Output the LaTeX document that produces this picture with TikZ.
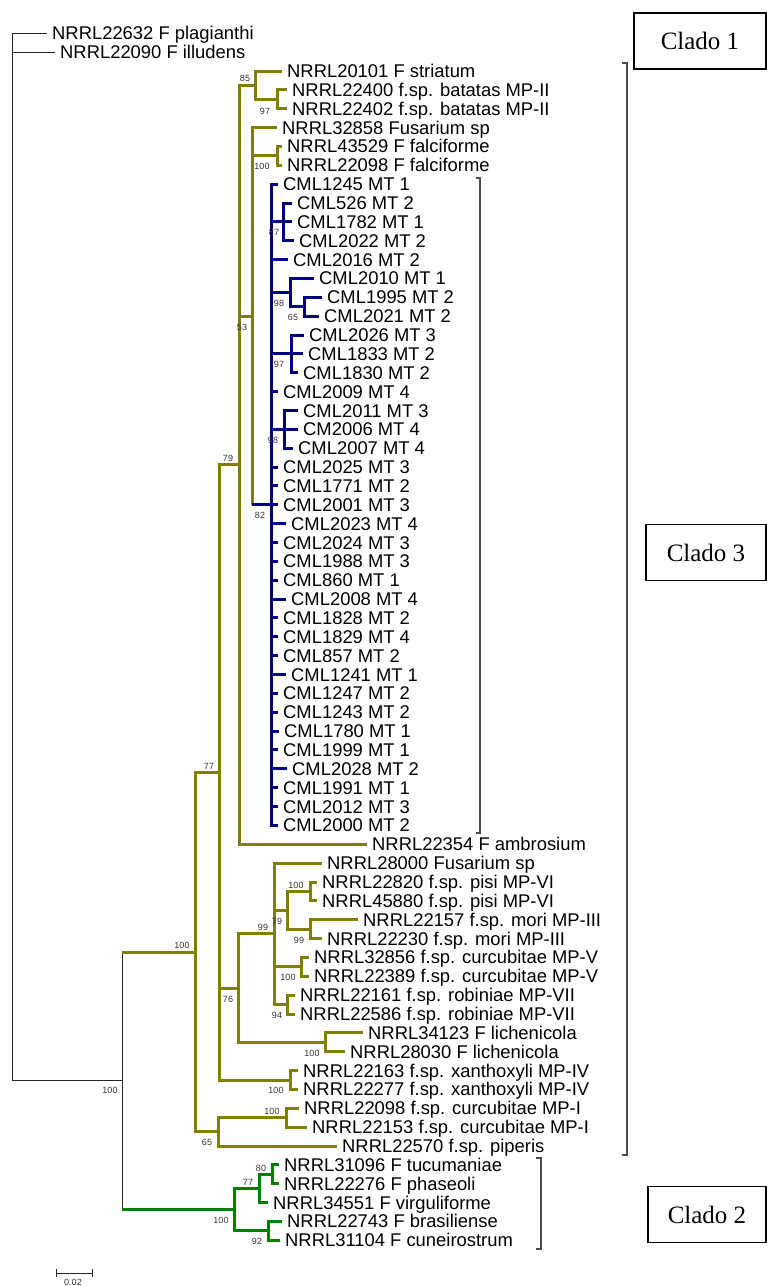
\documentclass[tikz,border=0pt]{standalone}
\usepackage{fontspec}
\setmainfont{Liberation Sans}
\newfontfamily\timesfont{Liberation Serif}
\definecolor{olv}{RGB}{128,128,0}
\definecolor{nvy}{RGB}{0,0,128}
\definecolor{grn}{RGB}{0,128,0}
\tikzset{
  leaf/.style={anchor=west, inner xsep=5pt, inner ysep=0pt, text height=13pt, text depth=0pt, font=\fontsize{18.4}{20}\selectfont},
  bs/.style={font=\fontsize{9}{10}\selectfont, text=black!80, inner sep=0pt},
  ob/.style={draw=olv, line width=3pt},
  bb/.style={draw=nvy, line width=3pt},
  gb/.style={draw=grn, line width=3pt},
  kb/.style={draw=black!85, line width=1pt},
  brk/.style={draw=black!70, line width=1.1pt},
  cbox/.style={draw, line width=1.3pt, minimum height=56pt, inner sep=0pt, font=\timesfont\fontsize{25}{28}\selectfont}
}
\begin{document}
\begin{tikzpicture}[x=1pt,y=-1pt]
\useasboundingbox (0,0) rectangle (767,1286);
% leaves
\foreach \i/\x/\t in {
1/47/NRRL22632 F plagianthi, 2/55/NRRL22090 F illudens,
3/282/NRRL20101 F striatum, 4/287/NRRL22400 f.sp. batatas MP-II, 5/287/NRRL22402 f.sp. batatas MP-II,
6/277/NRRL32858 Fusarium sp, 7/282/NRRL43529 F falciforme, 8/282/NRRL22098 F falciforme,
9/278/CML1245 MT 1, 10/292/CML526 MT 2, 11/292/CML1782 MT 1, 12/294/CML2022 MT 2,
13/288/CML2016 MT 2, 14/314/CML2010 MT 1, 15/322/CML1995 MT 2, 16/319/CML2021 MT 2,
17/304/CML2026 MT 3, 18/303/CML1833 MT 2, 19/298/CML1830 MT 2, 20/278/CML2009 MT 4,
21/298/CML2011 MT 3, 22/298/CM2006 MT 4, 23/293/CML2007 MT 4, 24/278/CML2025 MT 3,
25/278/CML1771 MT 2, 26/278/CML2001 MT 3, 27/286/CML2023 MT 4, 28/278/CML2024 MT 3,
29/278/CML1988 MT 3, 30/278/CML860 MT 1, 31/286/CML2008 MT 4, 32/278/CML1828 MT 2,
33/278/CML1829 MT 4, 34/278/CML857 MT 2, 35/286/CML1241 MT 1, 36/278/CML1247 MT 2,
37/278/CML1243 MT 2, 38/279/CML1780 MT 1, 39/278/CML1999 MT 1, 40/287/CML2028 MT 2,
41/278/CML1991 MT 1, 42/278/CML2012 MT 3, 43/278/CML2000 MT 2,
44/367/NRRL22354 F ambrosium, 45/322/NRRL28000 Fusarium sp,
46/317/NRRL22820 f.sp. pisi MP-VI, 47/317/NRRL45880 f.sp. pisi MP-VI,
48/358/NRRL22157 f.sp. mori MP-III, 49/322/NRRL22230 f.sp. mori MP-III,
50/309/NRRL32856 f.sp. curcubitae MP-V, 51/309/NRRL22389 f.sp. curcubitae MP-V,
52/295/NRRL22161 f.sp. robiniae MP-VII, 53/295/NRRL22586 f.sp. robiniae MP-VII,
54/363/NRRL34123 F lichenicola, 55/345/NRRL28030 F lichenicola,
56/298/NRRL22163 f.sp. xanthoxyli MP-IV, 57/298/NRRL22277 f.sp. xanthoxyli MP-IV,
58/299/NRRL22098 f.sp. curcubitae MP-I, 59/307/NRRL22153 f.sp. curcubitae MP-I,
60/337/NRRL22570 f.sp. piperis,
61/279/NRRL31096 F tucumaniae, 62/279/NRRL22276 F phaseoli, 63/268/NRRL34551 F virguliforme,
64/282/NRRL22743 F brasiliense, 65/280/NRRL31104 F cuneirostrum}
  \node[leaf] (L\i) at (\x,{33.3+(\i-1)*18.86}) {\t};
% internal nodes
\coordinate (root) at (12,557.1);
\coordinate (ing) at (122,1080.9);
\coordinate (c3) at (195,952.1);
\coordinate (c2) at (234,1209.7);
\coordinate (n80) at (272,1174.33);
\coordinate (n77g) at (259,1188.48);
\coordinate (n92) at (268,1230.91);
\coordinate (n97a) at (277,99.31);
\coordinate (n85) at (255,85.17);
\coordinate (nfalc) at (277,155.89);
\coordinate (b87) at (283,221.9);
\coordinate (b65) at (304,306.77);
\coordinate (b98a) at (290,292.63);
\coordinate (b97) at (291,353.92);
\coordinate (b98b) at (284,429.36);
\coordinate (b82) at (271,504.8);
\coordinate (n53) at (252,316.2);
\coordinate (n79) at (239,464.7);
\coordinate (pisi) at (310,891.43);
\coordinate (mori) at (310,929.15);
\coordinate (n79b) at (287,910.29);
\coordinate (curcV) at (301,966.87);
\coordinate (robin) at (287,1004.59);
\coordinate (n99) at (274,933.87);
\coordinate (lich) at (325,1042.31);
\coordinate (n76) at (238,988.09);
\coordinate (xan) at (290,1080.03);
\coordinate (n77) at (219,772.37);
\coordinate (curcI) at (286,1117.75);
\coordinate (n65) at (218,1131.9);
% black root part
\draw[kb] (root) |- (L1.west);
\draw[kb] (root) |- (L2.west);
\draw[kb] (root) |- (ing);
\draw[kb] (ing) -- (ing|-c3);
\draw[kb] (ing) -- (ing|-c2);
\draw[ob] (ing|-c3) -- (c3);
\draw[gb] (ing|-c2) -- (c2);
% clado 3 (olive)
\foreach \p/\c in {c3/n77, c3/n65, n77/n79, n77/n76, n77/xan, n79/n85, n79/n53,
  n85/n97a, n53/nfalc, n76/n99, n76/lich, n99/n79b, n99/curcV, n99/robin,
  n79b/pisi, n79b/mori, n65/curcI}
  \draw[ob] (\p) |- (\c);
\foreach \p/\c in {n79/44, n85/3, n97a/4, n97a/5, n53/6, nfalc/7, nfalc/8, n99/45,
  pisi/46, pisi/47, mori/48, mori/49, curcV/50, curcV/51, robin/52, robin/53,
  lich/54, lich/55, xan/56, xan/57, curcI/58, curcI/59, n65/60}
  \draw[ob] (\p) |- (L\c.west);
\draw[ob] (n53) -- (n53|-b82);
\draw[bb] (n53|-b82) -- (b82);
% blue clade
\foreach \p/\c in {b82/b87, b82/b98a, b82/b97, b82/b98b, b98a/b65}
  \draw[bb] (\p) |- (\c);
\foreach \c in {9,13,20,24,25,26,27,28,29,30,31,32,33,34,35,36,37,38,39,40,41,42,43}
  \draw[bb] (b82) |- (L\c.west);
\foreach \p/\c in {b87/10, b87/11, b87/12, b98a/14, b65/15, b65/16, b97/17, b97/18, b97/19,
  b98b/21, b98b/22, b98b/23}
  \draw[bb] (\p) |- (L\c.west);
% clado 2 (green)
\foreach \p/\c in {c2/n77g, c2/n92, n77g/n80}
  \draw[gb] (\p) |- (\c);
\foreach \p/\c in {n80/61, n80/62, n77g/63, n92/64, n92/65}
  \draw[gb] (\p) |- (L\c.west);
% bootstrap values
\foreach \x/\y/\v/\n in {245/78/85/a, 265/111/97/b, 262/166/100/c, 274/232/87/d,
  279/303/98/e, 293/317/65/f, 242/327/53/g, 279/364/97/h, 273/440/98/i, 228/458/79/j,
  260/515/82/k, 209/766/77/l, 296/885/100/m, 277/921/79/n, 263/927/99/o, 299/940/99/p,
  288/977/100/q, 277/1015/94/r, 228/999/76/s, 312/1053/100/t, 276/1090/100/u,
  182/945/100/v, 272/1111/100/w, 207/1142/65/x, 110/1090/100/y,
  261/1168/80/z, 248/1182/77/aa, 221/1220/100/ab, 257/1241/92/ac}
  \node[bs] (bs\n) at (\x,\y) {\v};
% brackets
\draw[brk] (476,178) -- (480,178) -- (480,833) -- (476,833);
\draw[brk] (622,63) -- (627,63) -- (627,1155) -- (622,1155);
\draw[brk] (536,1158) -- (541,1158) -- (541,1249) -- (536,1249);
% clado boxes
\node[cbox, minimum width=132pt] (clado1) at (700,41) {Clado 1};
\node[cbox, minimum width=120pt] (clado3) at (706,552.5) {Clado 3};
\node[cbox, minimum width=118pt] (clado2) at (707,1214.5) {Clado 2};
% scale bar
\coordinate (sbl) at (56,1273);
\coordinate (sbr) at (92,1273);
\draw[kb] (sbl) -- (sbr);
\draw[kb] ([yshift=-4pt]sbl) -- ([yshift=4pt]sbl);
\draw[kb] ([yshift=-4pt]sbr) -- ([yshift=4pt]sbr);
\node[bs] (sbtext) at (73,1282) {0.02};
\end{tikzpicture}
\end{document}
